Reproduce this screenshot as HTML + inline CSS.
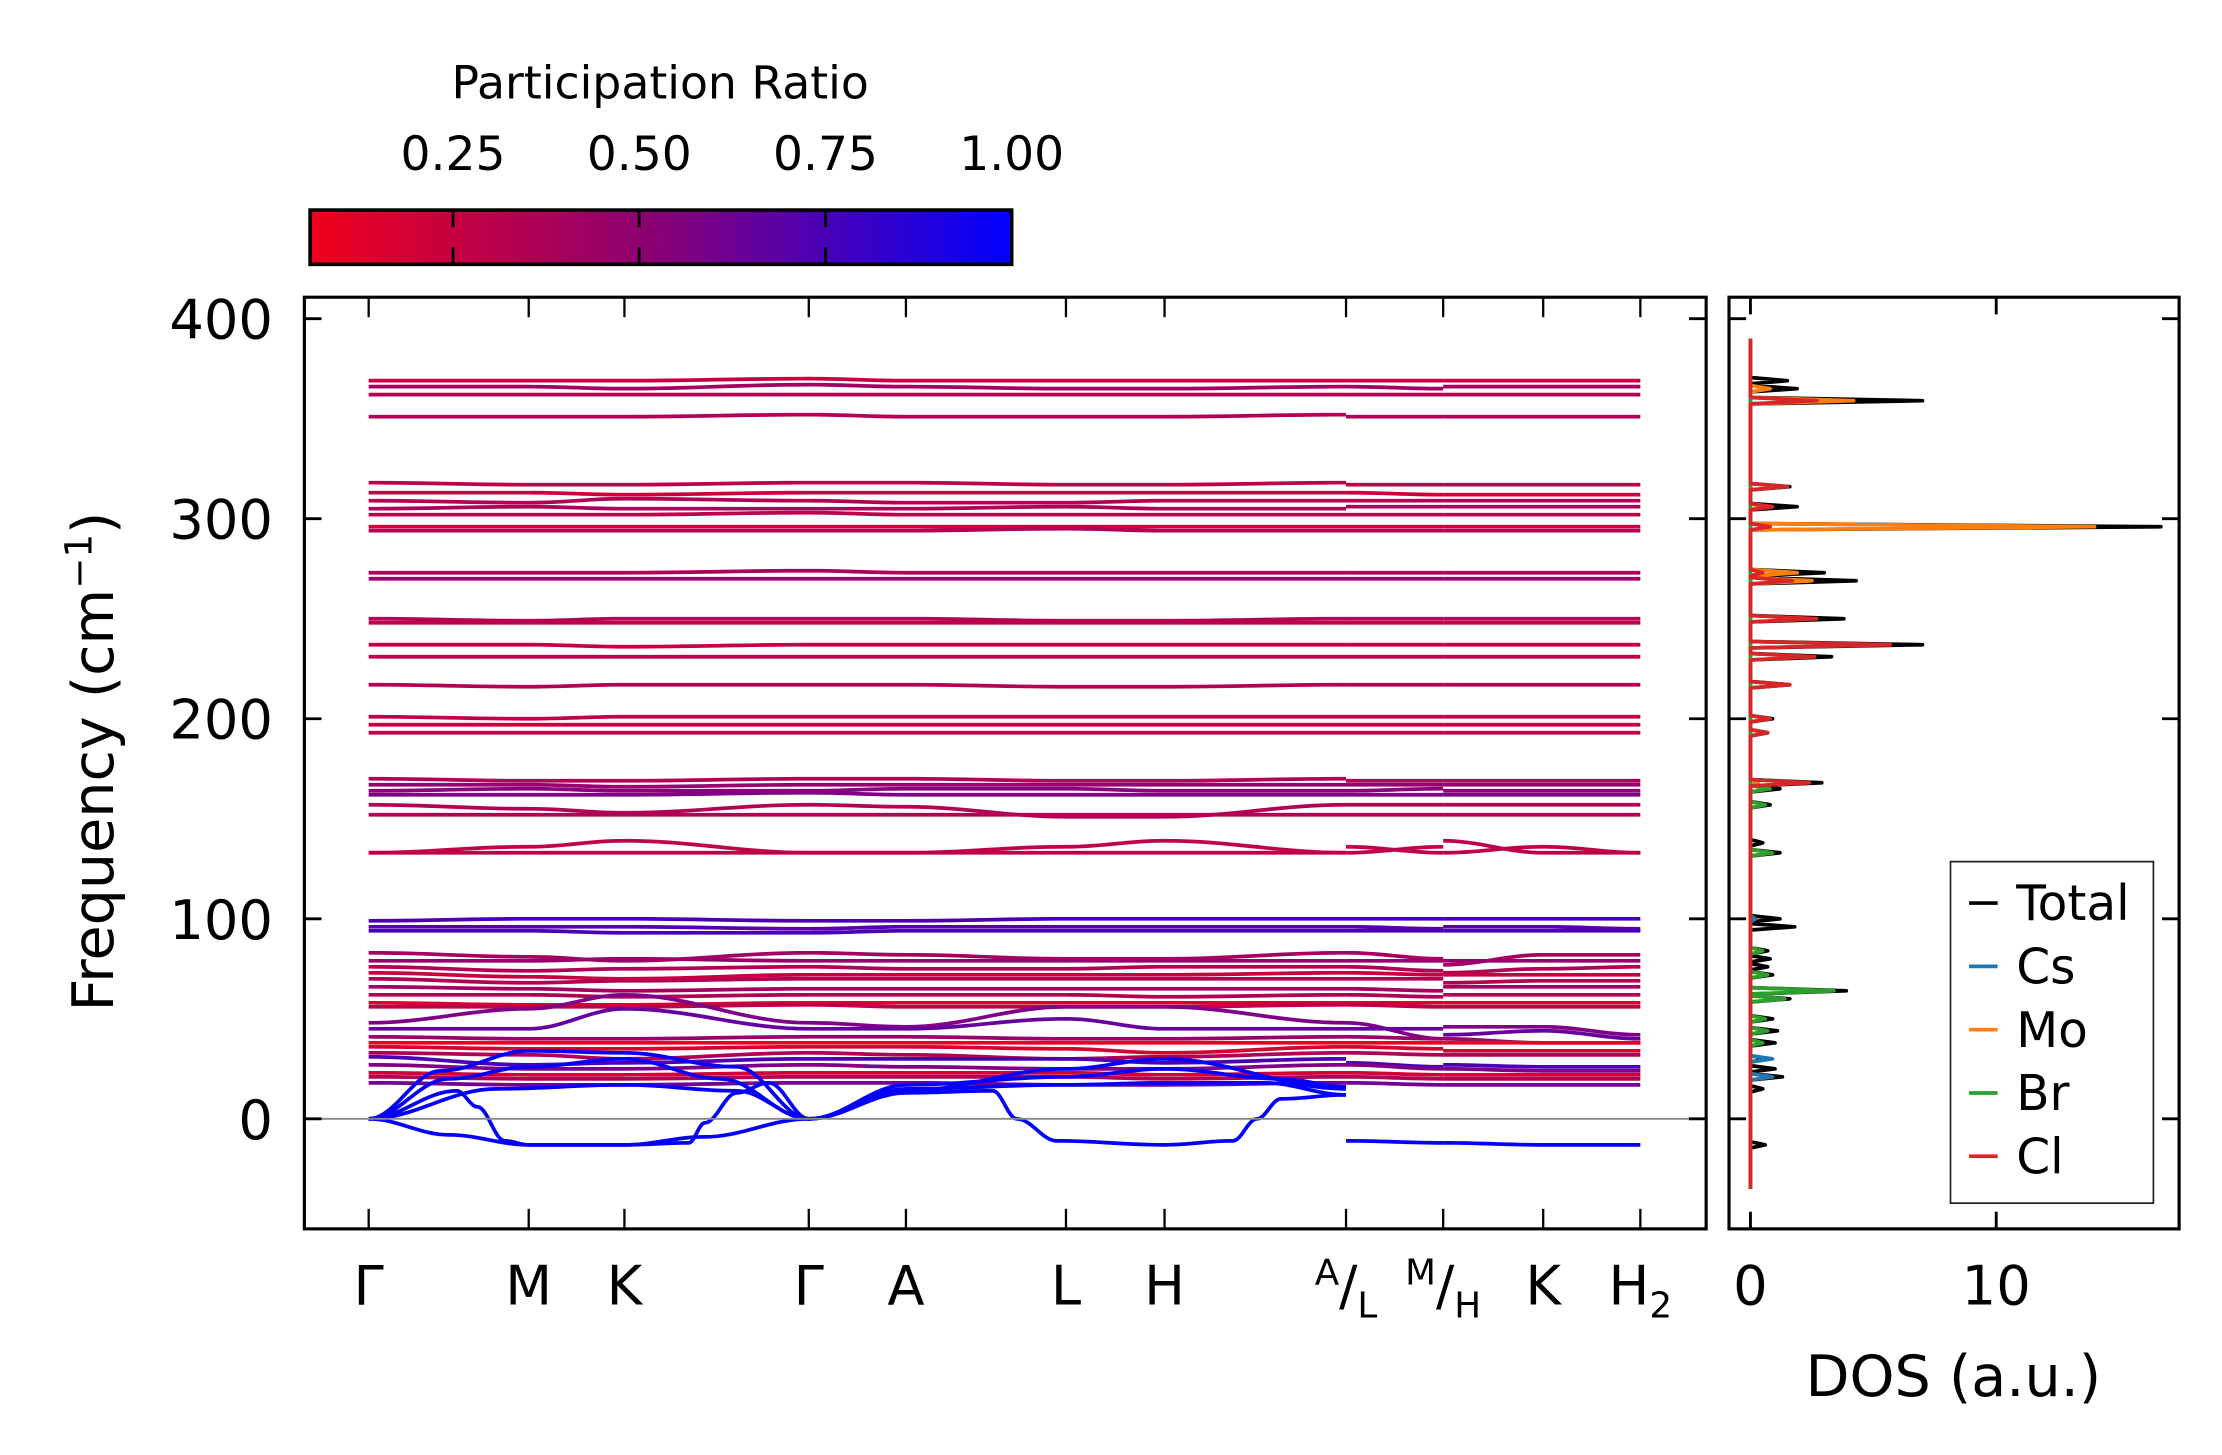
<!DOCTYPE html>
<html><head><meta charset="utf-8"><style>
html,body{margin:0;padding:0;background:#fff}
svg{display:block;font-family:"DejaVu Sans","Liberation Sans",sans-serif}
</style></head><body>
<svg id="chart" xmlns="http://www.w3.org/2000/svg" width="2222" height="1455" viewBox="0 0 1555 1018.25">
<defs>
<linearGradient id="cbgrad" x1="0" x2="1" y1="0" y2="0">
<stop offset="0" stop-color="#f0001a"/><stop offset="0.5" stop-color="#880075"/><stop offset="1" stop-color="#0000ff"/>
</linearGradient>
<clipPath id="mainclip"><rect x="213" y="208" width="981" height="652"/></clipPath>
<clipPath id="dosclip"><rect x="1210" y="208" width="315" height="652"/></clipPath>
</defs>
<g id="colorbar">
<text x="462" y="69" font-size="32" text-anchor="middle">Participation Ratio</text>
<rect x="217" y="147" width="491" height="38" fill="url(#cbgrad)" stroke="#000" stroke-width="2.5"/>
<g id="cbticks"></g>
</g>
<g id="main">
<g id="bands" clip-path="url(#mainclip)"></g>
<line x1="213" x2="1194" y1="783" y2="783" stroke="#888" stroke-width="1.3"/>
<rect x="213" y="208" width="981" height="652" fill="none" stroke="#000" stroke-width="2.2"/>
<g id="mainticks"></g>
<text transform="translate(79,533) rotate(-90)" font-size="40" text-anchor="middle">Frequency (cm<tspan dy="-15" font-size="26">−1</tspan><tspan dy="15">)</tspan></text>
</g>
<g id="dos">
<g id="dosLines" clip-path="url(#dosclip)"></g>
<rect x="1210" y="208" width="315" height="652" fill="none" stroke="#000" stroke-width="2.2"/>
<g id="dosticks"></g>
<text x="1367" y="977" font-size="40" text-anchor="middle">DOS (a.u.)</text>
<g id="legend">
<rect x="1365" y="603" width="142" height="239" fill="#fff" stroke="#222" stroke-width="1.2"/>
</g>
</g>
</svg>
<script>
// ---------- data ----------
const cbTickVals = [0.25, 0.5, 0.75, 1.0];
const cbTickLabels = ["0.25", "0.50", "0.75", "1.00"];
const yTickVals = [0, 100, 200, 300, 400];
const kLabels = ["Γ","M","K","Γ","A","L","H","A/L","M/H","K","H2"];
const kTickVals = [0, 1, 1.598, 2.75, 3.357, 4.357, 4.973, 6.107, 6.714, 7.339, 7.946];
const seg1K = [0, 1, 1.598, 2.75, 3.357, 4.357, 4.973, 6.107];
const seg2K = [6.107, 6.714];
const seg3K = [6.714, 7.339, 7.946];
const bandPR = [0.22,0.35,0.3,0.3, 0.25,0.2,0.3,0.32,0.25,0.2,0.3, 0.32,0.38,0.3,0.25,0.22,0.25,0.3, 0.25,0.2,0.25, 0.3,0.4,0.45,0.5,0.3,0.3, 0.25,0.25, 0.7,0.65,0.72, 0.35,0.4,0.3,0.22,0.3,0.35,0.3,0.15,0.25, 0.5,0.6,0.4,0.08,0.15,0.3,0.7,0.5,0.18,0.3,0.55];
const bandVals = [
 [369,369,369,370,369,369,369,369, 369,369, 369,369,369],
 [366,366,365,367,366,365,365,366, 366,365, 366,366,366],
 [362,362,362,362,362,362,362,362, 362,362, 362,362,362],
 [351,351,351,352,351,351,351,352, 351,351, 351,351,351],
 [318,317,317,318,318,317,317,318, 317,317, 317,317,317],
 [313,313,312,313,313,313,313,313, 313,312, 312,312,312],
 [309,308,310,309,308,308,309,309, 309,309, 309,309,309],
 [305,306,305,305,305,306,305,305, 306,306, 306,306,306],
 [302,302,302,303,302,302,302,302, 302,302, 302,302,302],
 [296,296,296,296,296,296,296,296, 296,296, 296,296,296],
 [294,294,294,294,294,295,294,294, 294,294, 294,294,294],
 [273,273,273,274,273,273,273,273, 273,273, 273,273,273],
 [270,270,270,270,270,270,270,270, 270,270, 270,270,270],
 [250,249,250,250,250,249,249,250, 250,250, 250,250,250],
 [248,248,248,248,248,248,248,248, 248,248, 248,248,248],
 [237,237,236,237,237,237,237,237, 237,237, 237,237,237],
 [231,231,231,231,231,231,231,231, 231,231, 231,231,231],
 [217,216,217,217,217,216,216,217, 217,217, 217,217,217],
 [201,200,201,201,201,201,201,201, 201,201, 201,201,201],
 [197,197,197,197,197,197,197,197, 197,197, 197,197,197],
 [193,193,193,193,193,193,193,193, 193,193, 193,193,193],
 [170,169,169,170,170,169,169,170, 169,169, 169,169,169],
 [167,167,166,167,167,167,167,167, 167,167, 167,167,167],
 [164,165,164,164,165,165,164,164, 164,165, 164,164,164],
 [162,162,162,163,162,162,162,162, 162,162, 162,162,162],
 [157,155,153,157,156,151,151,157, 157,157, 157,157,157],
 [152,152,152,152,152,152,152,152, 152,152, 152,152,152],
 [133,136,139,133,133,136,139,133, 133,136, 139,133,133],
 [133,133,133,133,133,133,133,133, 136,133, 133,136,133],
 [99,100,100,99,99,100,100,100, 100,100, 100,100,100],
 [96,96,96,95,96,96,96,96, 96,95, 96,96,95],
 [94,94,93,93,94,94,94,94, 94,94, 94,94,94],
 [83,81,79,83,82,80,80,83, 83,80, 77,82,82],
 [79,79,80,79,79,79,79,79, 79,79, 79,79,79],
 [76,74,75,76,75,75,76,76, 76,74, 73,75,76],
 [73,71,70,72,72,72,72,73, 73,72, 72,72,72],
 [70,68,69,70,70,70,70,70, 70,70, 68,69,69],
 [66,65,64,65,65,65,65,65, 65,64, 66,66,66],
 [62,62,61,62,62,62,61,62, 62,61, 62,62,62],
 [58,57,57,58,58,58,58,58, 58,58, 58,58,58],
 [56,56,56,57,56,56,56,57, 57,56, 56,56,56],
 [48,55,62,48,46,56,56,48, 48,40, 46,46,42],
 [45,45,55,45,45,50,45,45, 45,45, 42,44,40],
 [41,40,40,41,41,40,40,41, 41,40, 40,38,38],
 [38,38,38,38,38,38,38,38, 38,38, 38,38,38],
 [36,35,35,36,36,35,33,36, 36,35, 34,34,34],
 [33,32,30,33,32,30,31,33, 33,32, 32,32,32],
 [31,27,28,30,30,30,28,30, 28,26, 27,26,26],
 [27,25,25,27,26,25,25,27, 27,25, 25,24,24],
 [23,22,22,23,23,23,22,23, 23,22, 22,22,22],
 [21,20,20,21,21,21,20,21, 21,20, 20,20,20],
 [18,17,17,18,18,17,17,18, 18,17, 17,17,17]
];
const acoustic1K = [0,0.5,1.0,1.6,2.1,2.75,3.36,3.9,4.05,4.3,4.97,5.4,5.55,5.7,6.107];
const acoustic1F = [0,-8,-13,-13,-9,0,13,14,0,-11,-13,-11,0,10,12];
const acoustic2K = [0,0.55,0.68,0.85,1.0,1.6,2.0,2.1,2.3,2.5,2.75];
const acoustic2F = [0,14,6,-11,-13,-13,-12,-2,13,18,0];
const acoustic3K = [0,0.8,1.6,2.3,2.75,3.36,4.36,4.97,5.6,6.107];
const acoustic3F = [0,15,17,14,0,15,17,18,18,12];
const acoustic4K = [0,0.5,1.0,1.6,2.2,2.75,3.36,4.36,4.97,5.7,6.107];
const acoustic4F = [0,20,26,30,20,0,17,21,25,20,16];
const acoustic5K = [0,0.45,1.0,1.6,2.3,2.75,3.36,4.36,4.97,6.107];
const acoustic5F = [0,24,34,33,26,0,14,25,30,15];
const acousticSeg2F = [-11,-12];
const acousticSeg3F = [-12,-13,-13];
const dosTotalF = [-13,15,21,25,30,38,44,50,60,64,72,76,80,84,96,100,133,138,157,165,168,193,200,217,231,237,250,269,273,296,306,316,359,365,369];
const dosTotalV = [0.6,0.5,1.3,1.0,0.7,1.0,1.1,0.9,1.6,3.9,0.9,0.7,0.8,0.7,1.8,1.2,1.2,0.5,0.8,1.2,2.9,0.7,0.9,1.6,3.3,7.0,3.8,4.3,3.0,16.7,1.9,1.6,7.0,1.9,1.5];
const dosCsF = [21,30,100];
const dosCsV = [0.9,0.9,0.2];
const dosMoF = [168,269,273,296,306,359,365];
const dosMoV = [0.3,2.5,1.9,14.0,0.5,4.2,0.8];
const dosBrF = [38,44,50,60,64,72,84,133,157,165];
const dosBrV = [0.5,0.7,0.6,1.4,3.4,0.7,0.5,0.9,0.6,0.8];
const dosClF = [168,193,200,217,231,237,250,269,273,296,306,316,359];
const dosClV = [2.4,0.7,0.8,1.6,2.6,5.7,2.7,1.7,0.5,0.8,0.9,1.5,2.7];
const dosXTicks = [0, 10];

// ---------- scales ----------
const NS = "http://www.w3.org/2000/svg";
const yMain = f => 783 - 1.4 * f;
const xMain = k => 258 + k * 112;
const xDos = v => 1225 + v * 17.2;
const xCb = p => 708 - (1 - p) * 521.3;
function prColor(p){
  const t = Math.max(0, Math.min(1, (p - 0.057) / 0.943));
  const r = Math.round(240 * (1 - t)), b = Math.round(26 + (255 - 26) * t);
  return `rgb(${r},0,${b})`;
}
function mk(tag, attrs, parent){
  const e = document.createElementNS(NS, tag);
  for (const k in attrs) e.setAttribute(k, attrs[k]);
  parent.appendChild(e); return e;
}
function curve(ks, fs){
  let d = `M${xMain(ks[0]).toFixed(2)},${yMain(fs[0]).toFixed(2)}`;
  for (let i = 0; i < ks.length - 1; i++){
    for (let s = 1; s <= 16; s++){
      const t = s / 16, w = (1 - Math.cos(Math.PI * t)) / 2;
      const k = ks[i] + (ks[i+1] - ks[i]) * t, f = fs[i] + (fs[i+1] - fs[i]) * w;
      d += `L${xMain(k).toFixed(2)},${yMain(f).toFixed(2)}`;
    }
  }
  return d;
}

const cbt = document.getElementById('cbticks');
cbTickVals.forEach((p, i) => {
  if (p < 1){
    const l1 = mk('line', {x1:xCb(p), x2:xCb(p), y1:147, y2:159, stroke:'#000', 'stroke-width':2}, cbt);
    
    
    const l2 = mk('line', {x1:xCb(p), x2:xCb(p), y1:173, y2:185, stroke:'#000', 'stroke-width':2}, cbt);
    
    
  }
  const t = mk('text', {x:xCb(p), y:119, 'font-size':33, 'text-anchor':'middle'}, cbt);
  
  
  t.textContent = cbTickLabels[i];
});

const bg = document.getElementById('bands');
bandVals.forEach((v, i) => {
  const col = prColor(bandPR[i]);
  [[seg1K, v.slice(0, 8)], [seg2K, v.slice(8, 10)], [seg3K, v.slice(10, 13)]].forEach(([ks, fs]) => {
    const p = mk('path', {d:curve(ks, fs), fill:'none', stroke:col, 'stroke-width':2.6, 'stroke-linejoin':'round'}, bg);
    
    
  });
});
[[acoustic1K,acoustic1F],[acoustic2K,acoustic2F],[acoustic3K,acoustic3F],[acoustic4K,acoustic4F],[acoustic5K,acoustic5F],[seg2K,acousticSeg2F],[seg3K,acousticSeg3F]].forEach(([ks, fs]) => {
  const p = mk('path', {d:curve(ks, fs), fill:'none', stroke:prColor(0.98), 'stroke-width':2.6, 'stroke-linejoin':'round'}, bg);
  
  
});

const mt = document.getElementById('mainticks');
yTickVals.forEach(f => {
  const y = yMain(f);
  [[213, 225], [1182, 1194]].forEach(([a, b]) => {
    const l = mk('line', {x1:a, x2:b, y1:y, y2:y, stroke:'#000', 'stroke-width':2}, mt);
    
    
  });
  const t = mk('text', {x:191, y:y + 14, 'font-size':38, 'text-anchor':'end'}, mt);
  
  
  t.textContent = f;
});
kTickVals.forEach((k, i) => {
  const x = xMain(k);
  [[208, 222], [846, 860]].forEach(([a, b]) => {
    const l = mk('line', {x1:x, x2:x, y1:a, y2:b, stroke:'#000', 'stroke-width':1.6}, mt);
    
    
  });
  const t = mk('text', {x:x, y:913, 'font-size':38, 'text-anchor':'middle'}, mt);
  
  
  const lab = kLabels[i];
  if (lab.includes('/')){
    const [a, b] = lab.split('/');
    t.innerHTML = `<tspan font-size="25" dy="-14">${a}</tspan><tspan dy="14">/</tspan><tspan font-size="25" dy="9">${b}</tspan>`;
  } else if (lab === 'H2'){
    t.innerHTML = `H<tspan font-size="25" dy="9">2</tspan>`;
  } else t.textContent = lab;
});

const dl = document.getElementById('dosLines');
function dosPath(fs, vs){
  let pts = [[0, -35]];
  fs.forEach((f, i) => { pts.push([0, f - 1.6]); pts.push([vs[i], f]); pts.push([0, f + 1.6]); });
  pts.push([0, 390]);
  return 'M' + pts.map(p => `${xDos(p[0]).toFixed(2)},${yMain(p[1]).toFixed(2)}`).join('L');
}
const dosSeries = [[dosTotalF, dosTotalV, '#000000', 'dos-total'], [dosCsF, dosCsV, '#1f77b4', 'dos-cs'], [dosMoF, dosMoV, '#ff7f0e', 'dos-mo'], [dosBrF, dosBrV, '#2ca02c', 'dos-br'], [dosClF, dosClV, '#d62728', 'dos-cl']];
dosSeries.forEach(([fs, vs, c, n]) => {
  const p = mk('path', {d:dosPath(fs, vs), fill:'none', stroke:c, 'stroke-width':2.6, 'stroke-linejoin':'round'}, dl);
  
  
});
const dt = document.getElementById('dosticks');
yTickVals.forEach(f => {
  const y = yMain(f);
  [[1210, 1222], [1513, 1525]].forEach(([a, b]) => {
    const l = mk('line', {x1:a, x2:b, y1:y, y2:y, stroke:'#000', 'stroke-width':2}, dt);
    
    
  });
});
dosXTicks.forEach(v => {
  const x = xDos(v);
  [[208, 220], [848, 860]].forEach(([a, b]) => {
    const l = mk('line', {x1:x, x2:x, y1:a, y2:b, stroke:'#000', 'stroke-width':2}, dt);
    
    
  });
  const t = mk('text', {x:x, y:913, 'font-size':38, 'text-anchor':'middle'}, dt);
  
  
  t.textContent = v;
});
const lg = document.getElementById('legend');
const legendNames = ["Total", "Cs", "Mo", "Br", "Cl"];
const legendColors = ['#000000', '#1f77b4', '#ff7f0e', '#2ca02c', '#d62728'];
legendNames.forEach((n, i) => {
  const y = 632 + i * 44.3;
  const l = mk('line', {x1:1378, x2:1398, y1:y, y2:y, stroke:legendColors[i], 'stroke-width':2.6}, lg);
  
  
  const t = mk('text', {x:1411, y:y + 12, 'font-size':34}, lg);
  
  
  t.textContent = n;
});
</script>
</body></html>
